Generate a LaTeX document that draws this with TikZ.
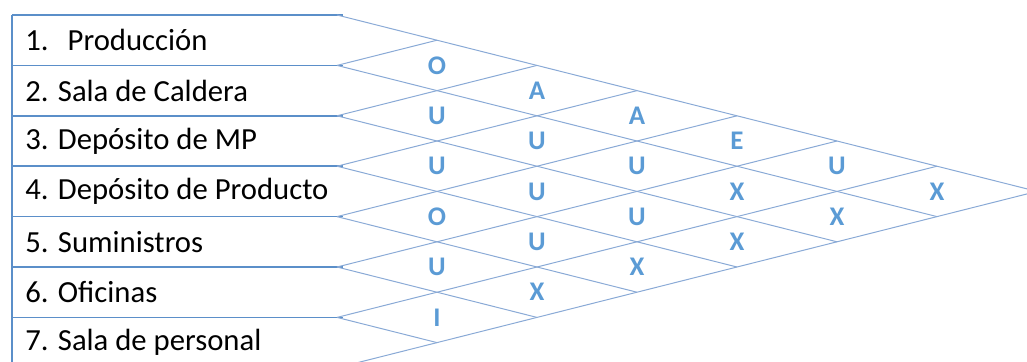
\documentclass[tikz,border=0pt]{standalone}
\usepackage{fontspec}
\setmainfont{Carlito}
\usepackage{tikz}
\usetikzlibrary{positioning}
\definecolor{rowblue}{HTML}{5B8FC9}
\definecolor{gridblue}{HTML}{8AAAD6}
\definecolor{relblue}{HTML}{5B9BD5}

\begin{document}
\begin{tikzpicture}[
  x=0.5bp,y=-0.5bp,
  font=\fontsize{15.4}{18}\selectfont,
  rowline/.style={draw=rowblue,line width=0.8bp},
  gridline/.style={draw=gridblue,line width=0.5bp},
  dept/.style={anchor=west,inner sep=0pt},
  rel/.style={font=\fontsize{13.5}{16}\selectfont\bfseries,text=relblue,inner sep=0pt},
]
  \clip (0,0) rectangle (1027,361);
  % row boundaries and start of the grid
  \foreach \k in {0,...,7}{
    \coordinate (l\k) at (12,15+50.4*\k);
    \coordinate (r\k) at (343,15+50.4*\k);
    \coordinate (g\k) at (337,15+50.4*\k);
  }
  \draw[rowline] (l0) -- (l7);
  \foreach \k in {0,...,7}
    \draw[rowline] (l\k) -- (r\k);
  % departments
  \foreach \i/\txt in {1/{1.\hspace{0.62em}Producción},2/2. Sala de Caldera,3/3. Depósito de MP,
                       4/4. Depósito de Producto,5/5. Suministros,6/6. Oficinas,7/7. Sala de personal}
    \node[dept] (d\i) at (25,15+50.4*\i-25.2) {\txt};
  % diamond grid
  \foreach \k in {0,...,6}
    \draw[gridline] (g\k) -- ++({100*(7-\k)},{25.2*(7-\k)});
  \foreach \k in {1,...,7}
    \draw[gridline] (g\k) -- ++({100*\k},{-25.2*\k});
  % closeness ratings
  \foreach \a/\b/\t in {1/2/O,2/3/U,3/4/U,4/5/O,5/6/U,6/7/I,
                        1/3/A,2/4/U,3/5/U,4/6/U,5/7/X,
                        1/4/A,2/5/U,3/6/U,4/7/X,
                        1/5/E,2/6/X,3/7/X,
                        1/6/U,2/7/X,
                        1/7/X}
    \node[rel] (c\a\b) at ({337+100*(\b-\a)},{40.2+25.2*(\a+\b-2)}) {\t};
\end{tikzpicture}
\end{document}
